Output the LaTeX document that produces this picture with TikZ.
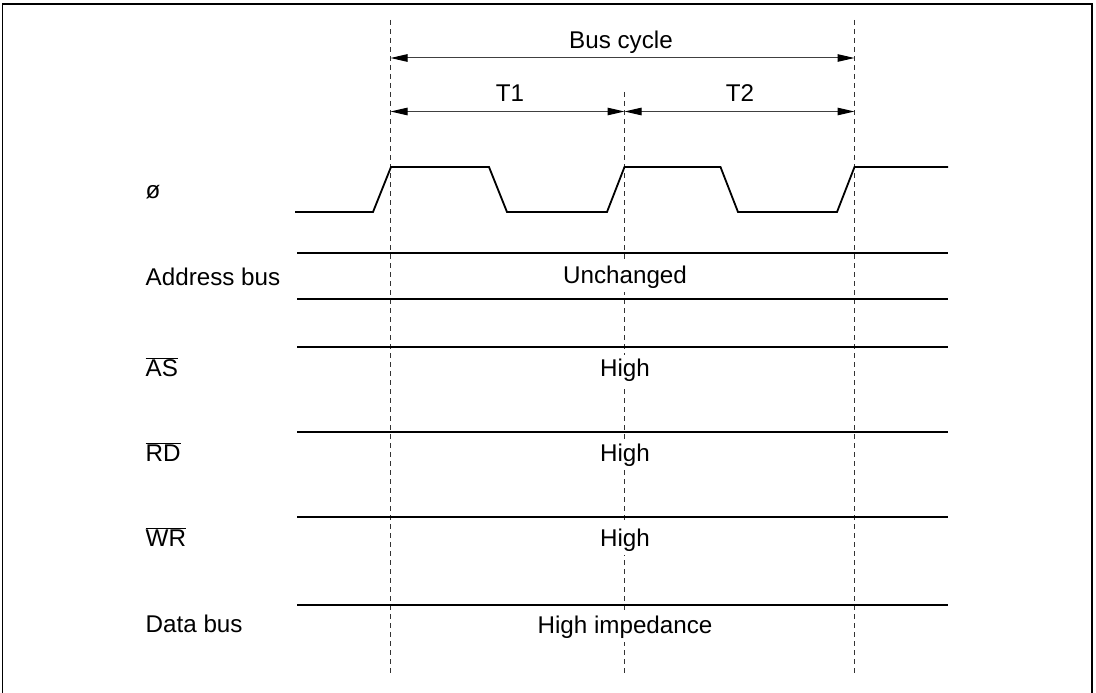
\documentclass[tikz,border=0pt]{standalone}
\usepackage{fontspec}
\setmainfont{Liberation Sans}
\usetikzlibrary{arrows.meta}
\newcommand{\ovl}[1]{\(\overline{\hbox{#1}}\)}
\begin{document}
\begin{tikzpicture}[x=1pt,y=-1pt,
  txt/.style={font=\fontsize{24.2}{29}\selectfont, inner sep=0pt},
  lbl/.style={txt, anchor=base west},
  mid/.style={txt, anchor=base, fill=white, inner xsep=3pt, inner ysep=4pt},
  sig/.style={line width=1.8pt, line join=miter},
  grid/.style={line width=0.9pt, black!80, dash pattern=on 5pt off 4pt},
  dim/.style={line width=1pt, black!75, {Triangle[length=17pt,width=7.5pt,black]}-{Triangle[length=17pt,width=7.5pt,black]}},
  frame/.style={line width=1.3pt}]
\useasboundingbox (0,0) rectangle (1096,693);
% frame (open at bottom)
\draw[frame] (2.5,693) -- (2.5,4) -- (1092,4) -- (1092,693);
% time marks
\coordinate (a0) at (390.5,20);
\coordinate (a1) at (390.5,675);
\coordinate (b0) at (624.5,92);
\coordinate (b1) at (624.5,675);
\coordinate (c0) at (854.5,20);
\coordinate (c1) at (854.5,675);
\draw[grid] (a0) -- (a1);
\draw[grid] (b0) -- (b1);
\draw[grid] (c0) -- (c1);
% dimension arrows
\coordinate (bcl) at (390.5,58);
\coordinate (bcr) at (854.5,58);
\coordinate (t1l) at (390.5,111.5);
\coordinate (t1r) at (624.5,111.5);
\coordinate (t2r) at (854.5,111.5);
\draw[dim] (bcl) -- (bcr);
\draw[dim] (t1l) -- (t1r);
\draw[dim] (t1r) -- (t2r);
\node[txt, anchor=base] (bc) at (621,49) {Bus cycle};
\node[txt, anchor=base] (t1) at (510,102) {T1};
\node[txt, anchor=base] (t2) at (740,102) {T2};
% clock
\draw[sig] (295,212) -- (373,212) -- (391,167) -- (489,167) -- (507,212) -- (607,212)
  -- (624.5,167) -- (720.5,167) -- (738,212) -- (837,212) -- (854.5,167) -- (948,167);
% bus / control lines
\draw[sig] (297,253) -- (948,253);
\draw[sig] (297,299) -- (948,299);
\draw[sig] (297,347) -- (948,347);
\draw[sig] (297,432) -- (948,432);
\draw[sig] (297,517) -- (948,517);
\draw[sig] (297,605) -- (948,605);
% left labels
\node[lbl] (lphi) at (145.5,198) {ø};
\node[lbl] (laddr) at (145.5,285) {Address bus};
\node[lbl] (las) at (145.5,376) {\ovl{AS}};
\node[lbl] (lrd) at (145.5,461) {\ovl{RD}};
\node[lbl] (lwr) at (145.5,546) {\ovl{WR}};
\node[lbl] (ldata) at (145.5,632) {Data bus};
% state labels
\node[mid] (sunch) at (625,283) {Unchanged};
\node[mid] (sas) at (625,376.5) {High};
\node[mid] (srd) at (625,461) {High};
\node[mid] (swr) at (625,546) {High};
\node[mid] (sdata) at (625,633) {High impedance};
\end{tikzpicture}
\end{document}
